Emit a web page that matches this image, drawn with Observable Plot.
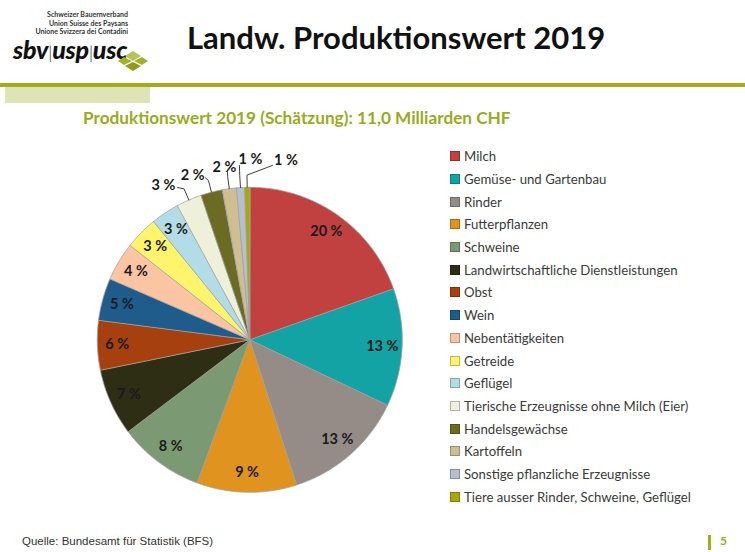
<!DOCTYPE html>
<html><head><meta charset="utf-8">
<script src="https://cdn.jsdelivr.net/npm/d3@7"></script>
<script src="https://cdn.jsdelivr.net/npm/@observablehq/plot@0.6"></script>
<style>
html,body{margin:0;padding:0;background:#fff;}
#page{position:relative;width:745px;height:552px;overflow:hidden;font-family:Lato,"Open Sans",sans-serif;}
#chart{position:absolute;left:0;top:0;}
.abs{position:absolute;white-space:nowrap;}
.org{position:absolute;right:617px;font-size:7px;font-weight:bold;color:#333;line-height:8px;text-align:right;}
#logo{left:13px;top:38px;font-size:25px;line-height:22px;font-weight:900;font-style:italic;color:#111;letter-spacing:-0.2px;}
#title{left:187px;top:18px;font-size:31px;font-weight:bold;color:#111;}
#subtitle{left:83px;top:107px;font-size:17.2px;font-weight:bold;color:#9aaa22;}
#legend{left:450px;top:145px;}
.item{height:22.7px;display:flex;align-items:center;font-size:13.2px;color:#3a3a3a;}
.sw{width:8px;height:8px;margin-right:4px;border:0.5px solid rgba(0,0,0,0.25);}
#source{left:22px;top:535px;font-family:"Liberation Sans Narrow","Liberation Sans",sans-serif;font-size:11.5px;color:#333;}
#pagenum{left:720px;top:533px;font-size:12px;font-weight:bold;color:#9aaa22;}
</style></head><body>
<div id="page">
  <div class="org" style="top:10px">Schweizer Bauernverband</div>
  <div class="org" style="top:18.5px">Union Suisse des Paysans</div>
  <div class="org" style="top:27px">Unione Svizzera dei Contadini</div>
  <div id="logo" class="abs">sbv<span style="font-weight:300;font-style:normal;font-size:17px;">|</span>usp<span style="font-weight:300;font-style:normal;font-size:17px;">|</span>usc</div>
  <svg class="abs" style="left:117px;top:50px" width="32" height="22" viewBox="0 0 32 22">
    <polygon points="16,1 24,6 16,11 8,6" fill="#b8c25a"/>
    <polygon points="25,7 31,11 25,15 17,11" fill="#a3b02c"/>
    <polygon points="7,7 15,11 7,15 1,11" fill="#a3b02c"/>
    <polygon points="16,12 24,16 16,21 8,16" fill="#8e9a1c"/>
  </svg>
  <div id="title" class="abs">Landw. Produktionswert 2019</div>
  <div class="abs" style="left:0;top:83px;width:745px;height:4px;background:#a8aa1e"></div>
  <div class="abs" style="left:5px;top:87px;width:145px;height:16px;background:#dfe4b6"></div>
  <div id="subtitle" class="abs">Produktionswert 2019 (Schätzung): 11,0 Milliarden CHF</div>
  <div id="chart"></div>
  <div id="legend" class="abs"></div>
  <div id="source" class="abs">Quelle: Bundesamt für Statistik (BFS)</div>
  <div class="abs" style="left:708px;top:535px;width:3px;height:15px;background:#a8aa1e"></div>
  <div id="pagenum" class="abs">5</div>
</div>
<script>
const categories = ["Milch","Gemüse- und Gartenbau","Rinder","Futterpflanzen","Schweine","Landwirtschaftliche Dienstleistungen","Obst","Wein","Nebentätigkeiten","Getreide","Geflügel","Tierische Erzeugnisse ohne Milch (Eier)","Handelsgewächse","Kartoffeln","Sonstige pflanzliche Erzeugnisse","Tiere ausser Rinder, Schweine, Geflügel"];
const shares = [19.6,12.5,13.0,10.6,9.1,7.1,5.25,4.5,4.1,3.5,3.0,2.7,2.3,1.5,0.85,0.55];
const pctLabels = ["20 %","13 %","13 %","9 %","8 %","7 %","6 %","5 %","4 %","3 %","3 %","3 %","2 %","2 %","1 %","1 %"];
const colors = ["#c0413f","#13a3a4","#958b87","#e0931f","#7b9a74","#2e2e14","#a6400f","#1f5b8b","#fbc4a2","#fff46c","#b3dde6","#eef0da","#6b6b23","#cfbd93","#b5c0cc","#a7a90b"];
// outside label placement (degrees clockwise from top, radius as share of pie radius)
const outside = {
  11:{la:330.8, lr:1.16, ea:334.6, er:1.105},
  12:{la:340.8, lr:1.14, ea:344.7, er:1.10},
  13:{la:351.6, lr:1.14, ea:352.4, er:1.107},
  14:{la:0.2,   lr:1.18, ea:356.6, er:1.145},
  15:{la:11.4,  lr:1.20, ea:7.4,   er:1.153}
};

const cx = 249.3, cy = 339.3, R = 152.5;
const rad = d => d * Math.PI / 180;
const pol = (a, r) => ({x: r * Math.sin(a), y: r * Math.cos(a)});

const arcs = d3.pie().sort(null).value(d => d)(shares);
const slices = arcs.map((p, i) => ({cat: categories[i], i, start: p.startAngle, end: p.endAngle, mid: (p.startAngle + p.endAngle) / 2, label: pctLabels[i]}));

const pts = [];
for (const s of slices) {
  pts.push({cat: s.cat, x: 0, y: 0});
  const n = Math.max(2, Math.ceil((s.end - s.start) / rad(0.5)));
  for (let k = 0; k <= n; k++) {
    const a = s.start + (s.end - s.start) * k / n;
    pts.push({cat: s.cat, ...pol(a, 1)});
  }
}
const insideLabels = slices.filter(s => !(s.i in outside)).map(s => ({label: s.label, ...pol(s.mid, 0.87)}));
const outsideLabels = slices.filter(s => s.i in outside).map(s => ({label: s.label, ...pol(rad(outside[s.i].la), outside[s.i].lr)}));
const leaders = [];
for (const s of slices.filter(s => s.i in outside)) {
  const o = outside[s.i];
  leaders.push({cat: s.cat, ...pol(s.mid, 1.0)});
  leaders.push({cat: s.cat, ...pol(s.mid, 1.08)});
  leaders.push({cat: s.cat, ...pol(rad(o.ea), o.er)});
}

const chart = Plot.plot({
  width: 745, height: 552, margin: 0,
  style: {background: "transparent", fontFamily: "Lato, 'Open Sans', sans-serif"},
  x: {domain: [-1, 1], range: [cx - R, cx + R], axis: null},
  y: {domain: [-1, 1], range: [cy + R, cy - R], axis: null},
  color: {domain: categories, range: colors},
  marks: [
    Plot.line(pts, {x: "x", y: "y", z: "cat", fill: "cat", stroke: "#a0a0a0", strokeWidth: 0.8, curve: "linear-closed"}),
    Plot.line(leaders, {x: "x", y: "y", z: "cat", stroke: "#404040", strokeWidth: 1}),
    Plot.text(insideLabels, {x: "x", y: "y", text: "label", fontSize: 14.5, fontWeight: "bold", fill: "#1a1a1a"}),
    Plot.text(outsideLabels, {x: "x", y: "y", text: "label", fontSize: 14.5, fontWeight: "bold", fill: "#1a1a1a"})
  ]
});
document.getElementById("chart").appendChild(chart);

const legend = document.getElementById("legend");
categories.forEach((c, i) => {
  const row = document.createElement("div");
  row.className = "item";
  const sw = document.createElement("span");
  sw.className = "sw";
  sw.style.background = colors[i];
  row.appendChild(sw);
  row.appendChild(document.createTextNode(c));
  legend.appendChild(row);
});
</script>
</body></html>
